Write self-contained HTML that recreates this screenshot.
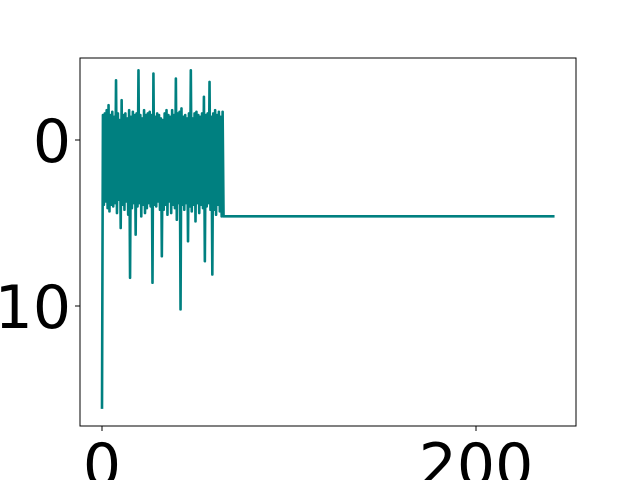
<!DOCTYPE html>
<html><head><meta charset="utf-8"><style>html,body{margin:0;background:#fff;width:640px;height:480px;overflow:hidden}svg{display:block;overflow:hidden}</style></head>
<body>
<svg id="chart" width="640" height="480" xmlns="http://www.w3.org/2000/svg" font-family="'DejaVu Sans','Liberation Sans',sans-serif">
<rect x="0" y="0" width="640" height="480" fill="#fff"/>
<g id="plot"></g>
<rect x="80" y="58" width="496" height="368" fill="none" stroke="#000" stroke-width="1"/>
<g id="axes"></g>
</svg>
<script>
const noiseStep=0.5;
const noiseValues=[-16.2,1.5,-3.9,1.6,-3.7,1.8,-4.1,2.1,-4.3,1.5,-3.9,1.7,-4.0,1.4,-3.8,3.6,-4.4,1.6,-3.6,1.2,-5.3,2.4,-3.9,1.5,-4.2,1.6,-3.7,1.3,-4.5,1.8,-8.3,1.4,-4.1,1.7,-3.8,1.5,-5.7,1.6,-4.0,4.2,-3.8,1.5,-4.6,1.3,-3.9,1.8,-4.4,1.5,-4.1,1.6,-3.8,1.7,-4.0,1.5,-8.6,4.0,-3.9,1.4,-4.0,1.6,-3.7,1.5,-4.2,1.3,-7.0,1.2,-4.2,1.6,-3.9,1.8,-4.5,1.5,-3.7,1.4,-4.4,1.8,-3.9,1.5,-4.1,3.7,-4.8,1.6,-3.8,1.7,-10.2,1.9,-3.9,1.4,-4.2,1.5,-3.8,1.3,-6.1,1.6,-4.0,4.2,-4.3,1.3,-3.9,1.6,-4.9,1.7,-3.8,1.5,-4.4,1.4,-3.9,1.6,-4.1,2.6,-7.3,1.5,-4.0,1.6,-3.8,3.5,-4.2,1.4,-8.1,1.6,-4.2,1.8,-4.5,1.5,-3.9,1.7,-4.3,1.4,-4.6,1.7,-4.6];
const plateauValue=-4.6;
const lastIndex=242;
const xTicks=[0,200];
const xTickLabels=["0","200"];
const yTicks=[0,-10];
const yTickLabels=["0","\u221210"];
const pts=noiseValues.map((v,i)=>[i*noiseStep,v]);
pts.push([lastIndex,plateauValue]);
const xs=i=>102+i*(374/200);
const ys=v=>140-v*16.6;
const ns="http://www.w3.org/2000/svg";
const plot=document.getElementById('plot'),axes=document.getElementById('axes');
const line=document.createElementNS(ns,'polyline');
line.setAttribute('points',pts.map(p=>xs(p[0]).toFixed(2)+','+ys(p[1]).toFixed(2)).join(' '));
line.setAttribute('fill','none');line.setAttribute('stroke','#008080');line.setAttribute('stroke-width','2.6');line.setAttribute('stroke-linejoin','round');


plot.appendChild(line);
xTicks.forEach((t,k)=>{
 const x=xs(t);
 const tk=document.createElementNS(ns,'line');
 tk.setAttribute('x1',x);tk.setAttribute('x2',x);tk.setAttribute('y1',426);tk.setAttribute('y2',431);tk.setAttribute('stroke','#000');
 
 
 axes.appendChild(tk);
 const tx=document.createElementNS(ns,'text');
 tx.setAttribute('x',x);tx.setAttribute('y',486);tx.setAttribute('text-anchor','middle');tx.setAttribute('font-size','60');
 tx.textContent=xTickLabels[k];
 
 
 axes.appendChild(tx);
});
yTicks.forEach((t,k)=>{
 const y=ys(t);
 const tk=document.createElementNS(ns,'line');
 tk.setAttribute('x1',75);tk.setAttribute('x2',80);tk.setAttribute('y1',y);tk.setAttribute('y2',y);tk.setAttribute('stroke','#000');
 
 
 axes.appendChild(tk);
 const tx=document.createElementNS(ns,'text');
 tx.setAttribute('x',71);tx.setAttribute('y',y+22);tx.setAttribute('text-anchor','end');tx.setAttribute('font-size','60');
 tx.textContent=yTickLabels[k];
 
 
 axes.appendChild(tx);
});
</script>
</body></html>
